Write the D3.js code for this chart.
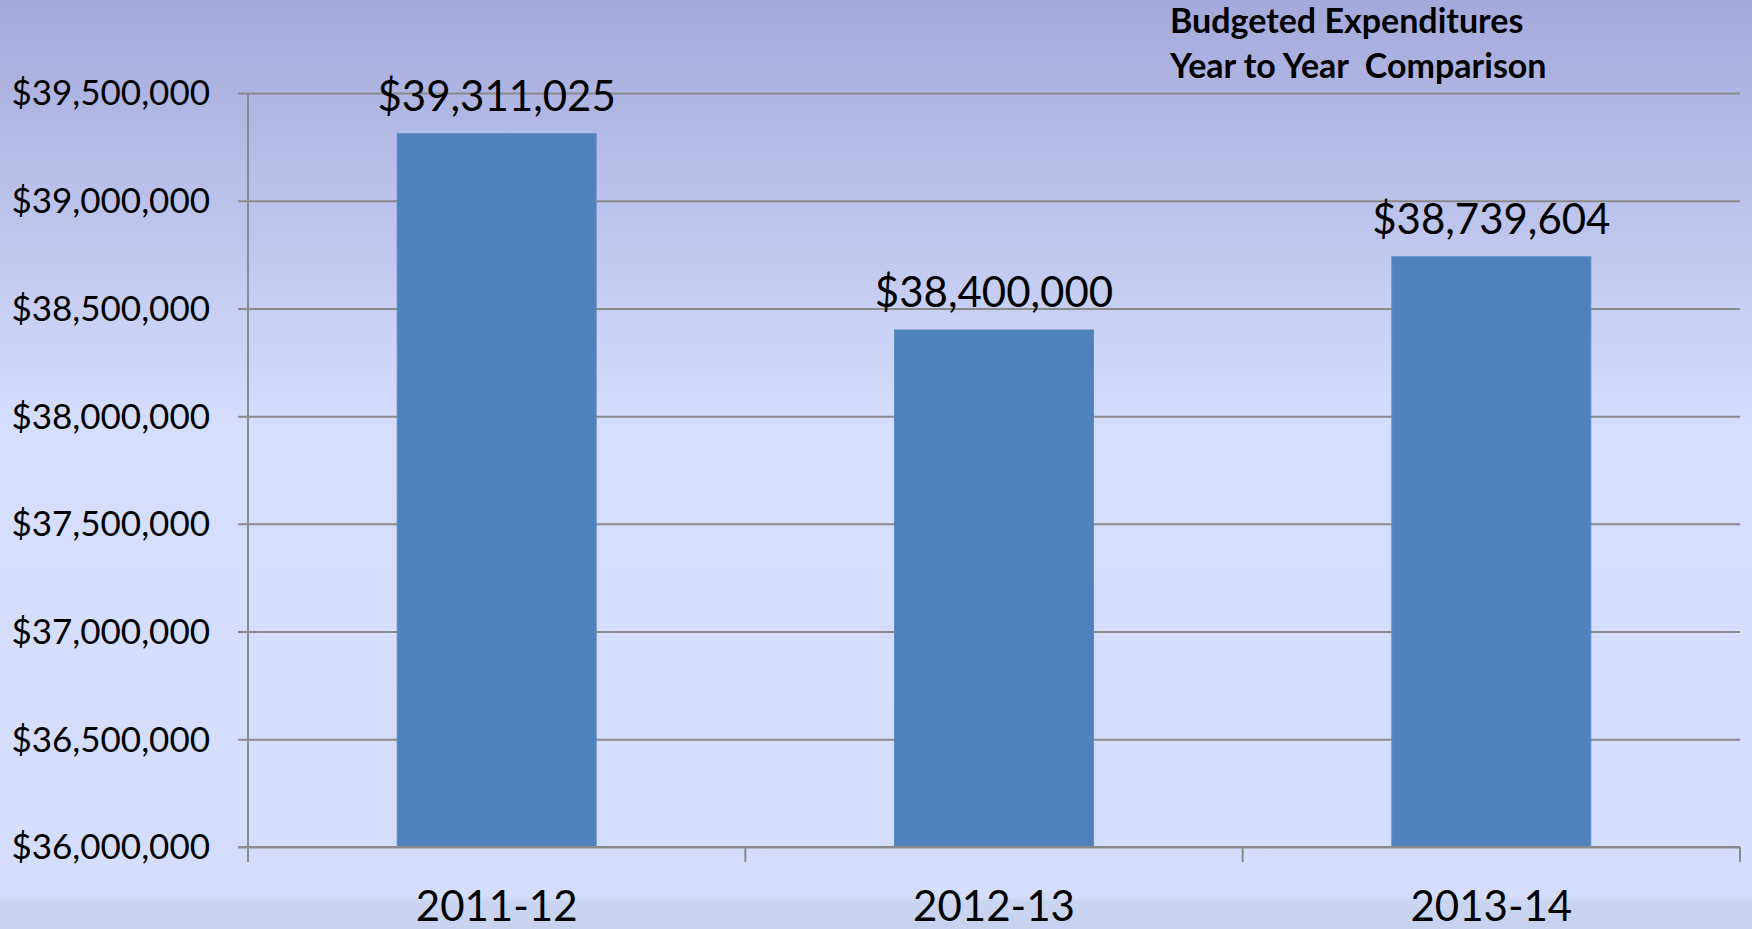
<!DOCTYPE html>
<html>
<head>
<meta charset="utf-8">
<script src="https://cdn.jsdelivr.net/npm/d3@7"></script>
<style>
html,body{margin:0;padding:0;overflow:hidden;}
svg{display:block;font-family:Lato, "Open Sans", sans-serif;}
</style>
</head>
<body>
<svg id="chart" width="1752" height="929"></svg>
<script>
const categories = ["2011-12", "2012-13", "2013-14"];
const values = [39311025, 38400000, 38739604];
const yTicks = [36000000, 36500000, 37000000, 37500000, 38000000, 38500000, 39000000, 39500000];
const titleLines = ["Budgeted Expenditures", "Year to Year  Comparison"];

const W = 1752, H = 929;
const margin = {left: 248, right: 12, top: 93, bottom: 82};
const svg = d3.select("#chart");

const defs = svg.append("defs");
const grad = defs.append("linearGradient").attr("id","bg").attr("x1",0).attr("y1",0).attr("x2",0).attr("y2",1);
[[0,"#a4a9db"],[0.46,"#d5defd"],[0.965,"#d4defc"],[0.97,"#cad6f1"],[1,"#c7d2ee"]].forEach(([o,c])=>grad.append("stop").attr("offset",o).attr("stop-color",c));
svg.append("rect").attr("width",W).attr("height",H).attr("fill","url(#bg)");

const x = d3.scaleBand().domain(categories).range([margin.left, W - margin.right]).paddingInner(0.6).paddingOuter(0.3);
const y = d3.scaleLinear().domain([36000000, 39500000]).range([H - margin.bottom, margin.top]);

const fmt = d3.format("$,");

// gridlines + y axis
const yAxis = d3.axisLeft(y).tickValues(yTicks).tickSize(-(W - margin.right - margin.left + 10)).tickFormat(fmt).tickPadding(0);
const gy = svg.append("g").attr("transform",`translate(${margin.left - 10},0)`).call(yAxis);
gy.select(".domain").remove();
gy.selectAll(".tick line").attr("stroke","#8a8a8a").attr("stroke-width",2);
gy.selectAll(".tick text").attr("x",-28).attr("font-size",35).attr("fill","#000").attr("font-family","Lato, sans-serif").attr("dy","0.34em");

// y axis vertical line
svg.append("line").attr("x1",margin.left).attr("x2",margin.left).attr("y1",y(39500000)).attr("y2",y(36000000)+15).attr("stroke","#8a8a8a").attr("stroke-width",2);

// bars
svg.append("g").selectAll("rect").data(values).join("rect")
  .attr("x",(d,i)=>x(categories[i]))
  .attr("width",x.bandwidth())
  .attr("y",d=>y(d))
  .attr("height",d=>y(36000000)-y(d))
  .attr("fill","#4f81bd").attr("stroke","#5a8bc6").attr("stroke-width",1);

// x axis ticks at band boundaries
const boundaries = [margin.left, ...categories.map((c,i)=>margin.left + (i+1)*(W - margin.right - margin.left)/categories.length)];
svg.append("g").selectAll("line").data(boundaries).join("line")
  .attr("x1",d=>d).attr("x2",d=>d).attr("y1",y(36000000)).attr("y2",y(36000000)+15)
  .attr("stroke","#8a8a8a").attr("stroke-width",2);
svg.append("line").attr("x1",margin.left-10).attr("x2",W-margin.right).attr("y1",y(36000000)).attr("y2",y(36000000)).attr("stroke","#8a8a8a").attr("stroke-width",2);

// category labels
svg.append("g").selectAll("text").data(categories).join("text")
  .attr("x",d=>x(d)+x.bandwidth()/2).attr("y",921)
  .attr("text-anchor","middle").attr("font-size",42).attr("fill","#000").text(d=>d);

// data labels
svg.append("g").selectAll("text").data(values).join("text")
  .attr("x",(d,i)=>x(categories[i])+x.bandwidth()/2).attr("y",d=>y(d)-23)
  .attr("text-anchor","middle").attr("font-size",42).attr("fill","#000").text(d=>fmt(d));

// title
svg.append("g").selectAll("text").data(titleLines).join("text")
  .attr("x",1170).attr("y",(d,i)=>33+i*45)
  .attr("font-size",34).attr("font-weight","bold").attr("fill","#000").style("white-space","pre").text(d=>d);
</script>
</body>
</html>
